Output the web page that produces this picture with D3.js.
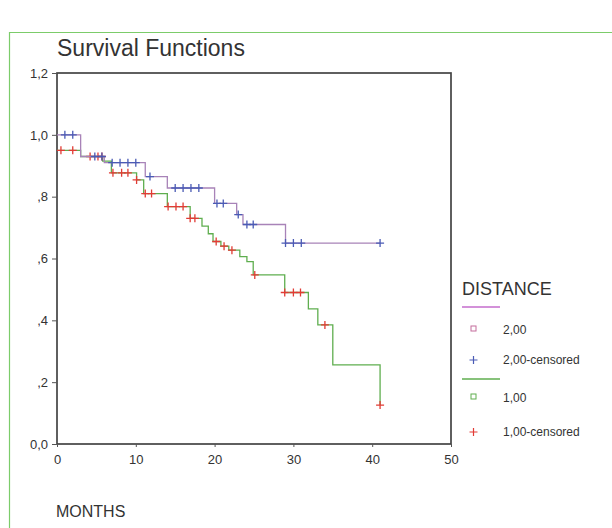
<!DOCTYPE html>
<html>
<head>
<meta charset="utf-8">
<script src="https://cdn.jsdelivr.net/npm/d3@7"></script>
<style>
  body { margin: 0; background: #fff; }
  text { font-family: "Liberation Sans", Arial, sans-serif; fill: #333; }
</style>
</head>
<body>
<div id="chart"></div>
<script>
// step points (time, survival)
var dist2_times = [0, 3, 6, 11.2, 14, 20, 22.8, 23.6, 29, 41];
var dist2_surv = [1.0, 0.93, 0.91, 0.865, 0.828, 0.778, 0.742, 0.71, 0.65, 0.65];
var dist2_censored = [1, 2, 4.8, 5.7, 7, 8, 9, 10, 11.8, 15, 16, 17, 18, 20.3, 21.1, 23, 24.1, 24.9, 29, 30, 31, 41];

var dist1_times = [0, 3, 5.8, 6.9, 10.1, 11, 14, 16.9, 18.4, 19.2, 19.8, 20.8, 21.8, 23.2, 24.1, 24.9, 28.9, 31.9, 33.1, 35, 41];
var dist1_surv = [0.95, 0.93, 0.915, 0.877, 0.854, 0.81, 0.768, 0.73, 0.705, 0.68, 0.655, 0.64, 0.627, 0.606, 0.59, 0.547, 0.49, 0.437, 0.385, 0.256, 0.126];
var dist1_censored = [0.5, 2, 4.2, 5.2, 5.7, 7.1, 8.2, 9, 10.1, 11.2, 12, 14.1, 15.1, 16, 16.9, 17.5, 20.2, 21.2, 22.2, 25.1, 28.9, 30, 30.9, 34, 41];

var xTicks = [0, 10, 20, 30, 40, 50];
var yTicks = [0, 0.2, 0.4, 0.6, 0.8, 1.0, 1.2];
var yTickLabels = ["0,0", ",2", ",4", ",6", ",8", "1,0", "1,2"];
var legendLabels = ["2,00", "2,00-censored", "1,00", "1,00-censored"];

var line2Color = "#a883b8";
var cens2Color = "#4a5bb5";
var line1Color = "#5fae4f";
var cens1Color = "#e23b35";

var svg = d3.select("#chart").append("svg").attr("width", 612).attr("height", 528);

// outer box
svg.append("path")
  .attr("d", "M9.5,540 V32.5 H620")
  .attr("stroke", "#7ccc6a").attr("stroke-width", 1.2).attr("fill", "none");

svg.append("text").attr("x", 57).attr("y", 56).attr("font-size", 23).text("Survival Functions");

var x = d3.scaleLinear().domain([0, 50]).range([57, 451]);
var y = d3.scaleLinear().domain([0, 1.2]).range([444, 73]);

// frame
svg.append("rect").attr("x", 57).attr("y", 73).attr("width", 394).attr("height", 371)
  .attr("fill", "none").attr("stroke", "#444").attr("stroke-width", 1.7);

var yAxis = svg.append("g").attr("transform", "translate(57,0)")
  .call(d3.axisLeft(y).tickValues(yTicks).tickSize(5).tickPadding(4)
    .tickFormat(function (d, i) { return yTickLabels[i]; }));
var xAxis = svg.append("g").attr("transform", "translate(0,444)")
  .call(d3.axisBottom(x).tickValues(xTicks).tickSize(3).tickPadding(8));
[xAxis, yAxis].forEach(function (g) {
  g.select(".domain").remove();
  g.selectAll("line").attr("stroke", "#555");
  g.selectAll("text").attr("font-size", 13).attr("fill", "#333")
    .attr("font-family", "Liberation Sans, Arial, sans-serif");
});

function stepAt(times, surv, t) {
  var s = surv[0];
  for (var i = 0; i < times.length; i++) {
    if (times[i] <= t) s = surv[i];
  }
  return s;
}

var lineFunc = d3.line()
  .x(function (d) { return x(d[0]); })
  .y(function (d) { return y(d[1]); })
  .curve(d3.curveStepAfter);

function drawGroup(times, surv, censored, lc, cc) {
  svg.append("path")
    .attr("d", lineFunc(d3.zip(times, surv)))
    .attr("stroke", lc).attr("stroke-width", 1.3).attr("fill", "none");
  svg.append("g").selectAll("path").data(censored).enter().append("path")
    .attr("d", function (t) {
      var cx = x(t), cy = y(stepAt(times, surv, t));
      return "M" + (cx - 4) + "," + cy + "H" + (cx + 4) + "M" + cx + "," + (cy - 4) + "V" + (cy + 4);
    })
    .attr("stroke", cc).attr("stroke-width", 1.3);
}

drawGroup(dist1_times, dist1_surv, dist1_censored, line1Color, cens1Color);
drawGroup(dist2_times, dist2_surv, dist2_censored, line2Color, cens2Color);

// legend
var lg = svg.append("g");
lg.append("text").attr("x", 462).attr("y", 295).attr("font-size", 18).text("DISTANCE");
var legendRows = [
  { y: 330, kind: "square", color: "#c46c9c" },
  { y: 360, kind: "plus", color: cens2Color },
  { y: 398, kind: "square", color: line1Color },
  { y: 432, kind: "plus", color: cens1Color }
];
lg.append("line").attr("x1", 462).attr("x2", 500).attr("y1", 307).attr("y2", 307)
  .attr("stroke", "#c46ccc").attr("stroke-width", 1.5);
lg.append("line").attr("x1", 462).attr("x2", 500).attr("y1", 379).attr("y2", 379)
  .attr("stroke", line1Color).attr("stroke-width", 1.5);
legendRows.forEach(function (r, i) {
  if (r.kind == "square") {
    lg.append("rect").attr("x", 471).attr("y", r.y - 4).attr("width", 5).attr("height", 5)
      .attr("fill", "none").attr("stroke", r.color).attr("stroke-width", 1);
  } else {
    lg.append("path")
      .attr("d", "M469.5," + r.y + "H477.5M473.5," + (r.y - 4) + "V" + (r.y + 4))
      .attr("stroke", r.color).attr("stroke-width", 1.2);
  }
  lg.append("text").attr("x", 503).attr("y", r.y + 4).attr("font-size", 12).text(legendLabels[i]);
});

svg.append("text").attr("x", 56).attr("y", 517).attr("font-size", 16).text("MONTHS");
</script>
</body>
</html>
